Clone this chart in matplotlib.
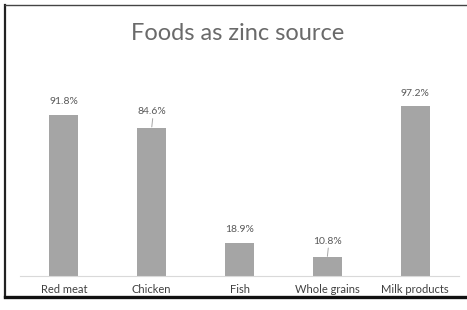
import matplotlib
matplotlib.use("Agg")
import matplotlib.pyplot as plt
from matplotlib.lines import Line2D

categories = ["Red meat", "Chicken", "Fish", "Whole grains", "Milk products"]
values = [91.8, 84.6, 18.9, 10.8, 97.2]
labels = ["91.8%", "84.6%", "18.9%", "10.8%", "97.2%"]

W, H = 467, 310
fig = plt.figure(figsize=(W / 100, H / 100), dpi=100)
fig.patch.set_facecolor("white")

# frame lines around the chart (left, top, bottom)
fig.add_artist(Line2D([5 / W, 5 / W], [1 - 5 / H, 1 - 297 / H], color="#222222", lw=1.6))
fig.add_artist(Line2D([5 / W, 1], [1 - 5 / H, 1 - 5 / H], color="#444444", lw=1.0))
fig.add_artist(Line2D([5 / W, 1], [1 - 297 / H, 1 - 297 / H], color="#111111", lw=2.4))

ax = fig.add_axes([20 / W, 34 / H, 439 / W, 175.4 / H])
x = list(range(len(categories)))
ax.bar(x, values, width=0.33, color="#a5a5a5", zorder=2)
ax.set_xlim(-0.5, len(categories) - 0.5)
ax.set_ylim(0, 100)

for s in ["top", "right", "left"]:
    ax.spines[s].set_visible(False)
ax.spines["bottom"].set_color("#d9d9d9")
ax.spines["bottom"].set_linewidth(0.8)
ax.set_yticks([])
ax.set_xticks(x)
ax.set_xticklabels(categories, fontsize=8, color="#404040", family="Lato")
ax.tick_params(axis="x", length=0, pad=5.5)

offsets = [13, 16, 13, 16, 12]
leaders = [False, True, False, True, False]
for xi, v, lab, off, lead in zip(x, values, labels, offsets, leaders):
    ax.annotate(lab, (xi, v), xytext=(0, off), textcoords="offset pixels",
                ha="center", va="center", fontsize=7.5, color="#595959",
                family="Lato", annotation_clip=False)
    if lead:
        ax.annotate("", (xi, v), xytext=(1, off - 7), textcoords="offset pixels",
                    arrowprops=dict(arrowstyle="-", color="#a6a6a6", lw=0.7,
                                    shrinkA=0, shrinkB=0.5),
                    annotation_clip=False)

fig.text(238 / W, 1 - 33 / H, "Foods as zinc source", ha="center", va="center",
         fontsize=17, color="#6a6a6a", family="Lato")

fig.savefig("out.png", dpi=100)
